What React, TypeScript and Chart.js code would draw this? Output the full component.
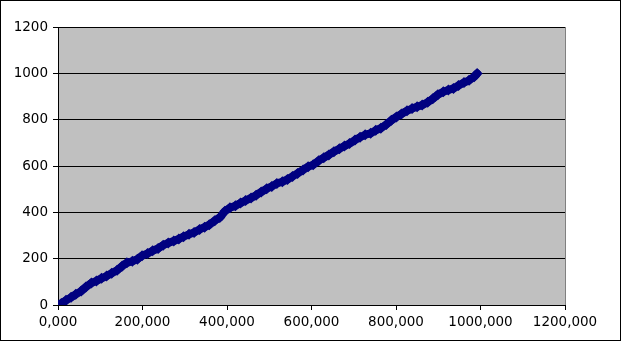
import React, { useEffect, useRef } from "react";
import { Chart, registerables } from "chart.js";

Chart.register(...registerables);

const xValues: number[] = [0, 8, 19, 31, 42, 55, 66, 79, 91, 103, 115, 127, 140, 152, 163, 176, 188, 199, 212, 224, 237, 249, 261, 274, 286, 297, 310, 322, 335, 347, 358, 371, 383, 395, 407, 420, 432, 444, 457, 469, 481, 494, 506, 518, 531, 543, 555, 567, 580, 592, 604, 617, 629, 641, 653, 666, 678, 690, 703, 715, 727, 740, 752, 764, 777, 789, 801, 813, 826, 838, 850, 862, 875, 887, 899, 912, 924, 936, 948, 961, 973, 985, 992];
const yValues: number[] = [0, 7, 20, 33, 46, 60, 78, 95, 104, 115, 125, 137, 150, 168, 182, 189, 198, 213, 222, 234, 244, 258, 268, 276, 285, 295, 305, 313, 326, 336, 346, 364, 378, 405, 420, 428, 440, 451, 462, 474, 488, 502, 512, 525, 532, 542, 555, 568, 583, 597, 605, 623, 636, 648, 662, 674, 686, 697, 712, 724, 735, 741, 754, 763, 779, 797, 812, 825, 838, 848, 856, 863, 875, 890, 908, 920, 928, 935, 947, 960, 970, 985, 999];

const xTicks: number[] = [0, 200, 400, 600, 800, 1000, 1200];
const yTicks: number[] = [0, 200, 400, 600, 800, 1000, 1200];

const FONT = { family: "'DejaVu Sans'", size: 13.5 };

const framePlugin = {
  id: "frame",
  beforeDraw(chart: any) {
    const { ctx, chartArea } = chart;
    ctx.save();
    ctx.fillStyle = "#ffffff";
    ctx.fillRect(0, 0, chart.width, chart.height);
    ctx.fillStyle = "#c0c0c0";
    ctx.fillRect(chartArea.left, chartArea.top, chartArea.right - chartArea.left, chartArea.bottom - chartArea.top);
    ctx.strokeStyle = "#808080";
    ctx.lineWidth = 1;
    ctx.strokeRect(chartArea.left + 0.5, chartArea.top + 0.5, chartArea.right - chartArea.left, chartArea.bottom - chartArea.top);
    ctx.restore();
  },
  afterDraw(chart: any) {
    const { ctx } = chart;
    ctx.save();
    ctx.strokeStyle = "#000000";
    ctx.lineWidth = 1;
    ctx.strokeRect(0.5, 0.5, chart.width - 1, chart.height - 1);
    ctx.restore();
  },
};

export default function App() {
  const ref = useRef<HTMLCanvasElement | null>(null);
  useEffect(() => {
    if (!ref.current) return;
    const data = xValues.map((x, i) => ({ x, y: yValues[i] }));
    const chart = new Chart(ref.current, {
      type: "scatter",
      data: {
        datasets: [
          {
            data,
            showLine: true,
            borderColor: "#000080",
            backgroundColor: "#000080",
            borderWidth: 8,
            pointStyle: "rectRot",
            pointRadius: 5.5,
            pointBorderWidth: 0,
            pointHoverRadius: 5.5,
            borderCapStyle: "round",
            borderJoinStyle: "round",
          } as any,
        ],
      },
      options: {
        responsive: false,
        animation: false,
        events: [],
        layout: { padding: { left: 0, top: 27, right: 56, bottom: 0 } },
        plugins: { legend: { display: false }, tooltip: { enabled: false } },
        scales: {
          x: {
            type: "linear",
            min: 0,
            max: 1200,
            afterBuildTicks: (s: any) => {
              s.ticks = xTicks.map((v) => ({ value: v }));
            },
            afterFit: (s: any) => {
              s.height = 36;
            },
            ticks: {
              color: "#000000",
              font: FONT,
              padding: 4,
              maxRotation: 0,
              autoSkip: false,
              callback: (v: any) => Number(v).toFixed(3).replace(".", ","),
            },
            grid: {
              drawOnChartArea: false,
              drawTicks: true,
              tickLength: 5,
              tickColor: "#000000",
            },
            border: { color: "#000000", width: 1 },
          },
          y: {
            type: "linear",
            min: 0,
            max: 1200,
            afterBuildTicks: (s: any) => {
              s.ticks = yTicks.map((v) => ({ value: v }));
            },
            afterFit: (s: any) => {
              s.width = 58;
            },
            ticks: {
              color: "#000000",
              font: FONT,
              padding: 5,
              autoSkip: false,
              callback: (v: any) => String(v),
            },
            grid: {
              color: "#000000",
              drawTicks: true,
              tickLength: 5,
              tickColor: "#000000",
            },
            border: { color: "#000000", width: 1 },
          },
        },
      },
      plugins: [framePlugin],
    } as any);
    return () => chart.destroy();
  }, []);
  return (
    <div style={{ position: "absolute", left: 0, top: 0, width: 621, height: 341 }}>
      <canvas ref={ref} width={621} height={341} style={{ display: "block", width: 621, height: 341 }} />
    </div>
  );
}
